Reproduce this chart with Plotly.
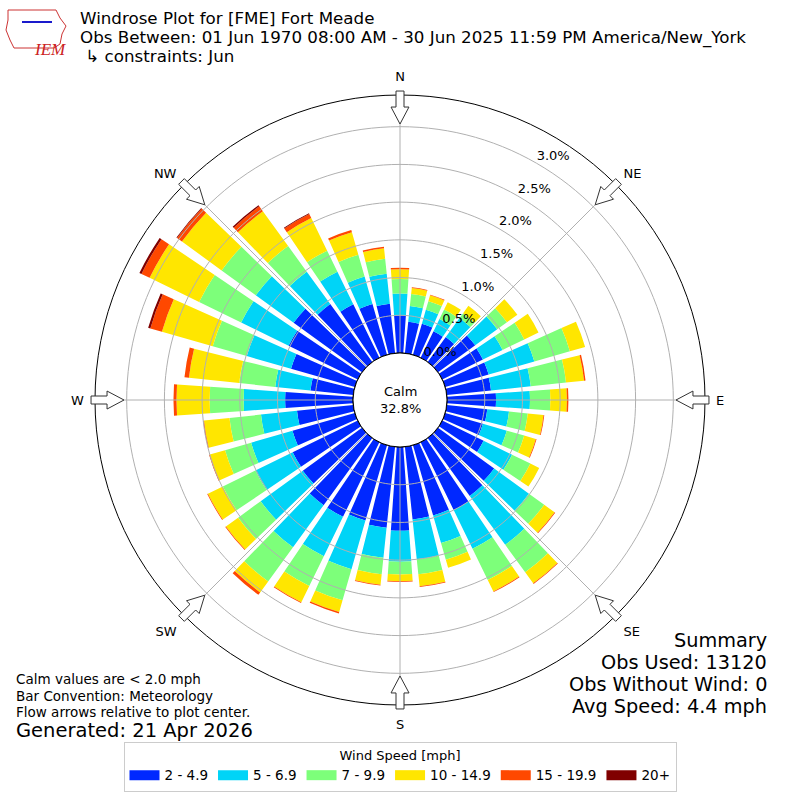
import math
import plotly.graph_objects as go

# direction bins (degrees, meteorological: where the wind blows from)
directions = list(range(0, 360, 10))

speed_bins = ["2 - 4.9", "5 - 6.9", "7 - 9.9", "10 - 14.9", "15 - 19.9", "20+"]
bin_colors = ["#0028ff", "#00d4f7", "#7dff7a", "#ffe600", "#ff4800", "#800000"]

# frequency (%) per direction for each speed bin
pct_2_5 = [0.50, 0.42, 0.43, 0.39, 0.41, 0.61, 0.60, 0.60, 0.59, 0.65, 0.54, 0.52,
           0.61, 0.92, 0.95, 1.00, 0.97, 0.97, 1.11, 1.08, 1.04, 1.10, 1.10, 0.97,
           0.96, 0.86, 0.75, 0.90, 0.57, 0.88, 1.02, 1.12, 0.95, 0.79, 0.70, 0.66]
pct_5_7 = [0.29, 0.21, 0.19, 0.18, 0.31, 0.36, 0.29, 0.63, 0.53, 0.45, 0.29, 0.33,
           0.42, 0.57, 0.80, 0.57, 0.38, 0.53, 0.41, 0.40, 0.67, 0.58, 0.69, 0.69,
           0.55, 0.57, 0.48, 0.55, 0.47, 0.61, 0.70, 0.62, 0.53, 0.48, 0.38, 0.40]
pct_7_10 = [0.19, 0.16, 0.12, 0.14, 0.08, 0.16, 0.32, 0.49, 0.47, 0.27, 0.25, 0.24,
            0.27, 0.25, 0.45, 0.46, 0.23, 0.20, 0.17, 0.22, 0.43, 0.44, 0.56, 0.37,
            0.48, 0.36, 0.42, 0.45, 0.48, 0.47, 0.62, 0.56, 0.42, 0.31, 0.30, 0.20]
pct_10_15 = [0.13, 0.08, 0.08, 0.11, 0.12, 0.17, 0.21, 0.21, 0.24, 0.22, 0.21, 0.16,
             0.13, 0.17, 0.18, 0.17, 0.11, 0.16, 0.09, 0.14, 0.16, 0.24, 0.18, 0.20,
             0.22, 0.21, 0.34, 0.44, 0.67, 0.70, 0.73, 0.65, 0.57, 0.48, 0.31, 0.14]
pct_15_20 = [0.02, 0.01, 0.01, 0.00, 0.00, 0.00, 0.00, 0.00, 0.02, 0.02, 0.01, 0.01,
             0.00, 0.01, 0.01, 0.01, 0.00, 0.01, 0.01, 0.01, 0.02, 0.01, 0.04, 0.01,
             0.01, 0.01, 0.01, 0.04, 0.06, 0.16, 0.12, 0.08, 0.08, 0.06, 0.03, 0.02]
pct_20_up = [0.00, 0.00, 0.00, 0.00, 0.00, 0.00, 0.00, 0.00, 0.00, 0.00, 0.00, 0.00,
             0.00, 0.00, 0.00, 0.00, 0.00, 0.00, 0.00, 0.00, 0.00, 0.00, 0.00, 0.00,
             0.00, 0.00, 0.00, 0.00, 0.00, 0.03, 0.03, 0.01, 0.02, 0.01, 0.00, 0.00]
series = [pct_2_5, pct_5_7, pct_7_10, pct_10_15, pct_15_20, pct_20_up]

radial_ticks = [0.0, 0.5, 1.0, 1.5, 2.0, 2.5, 3.0]
radial_labels = ["0.0%", "0.5%", "1.0%", "1.5%", "2.0%", "2.5%", "3.0%"]
compass_angles = [0, 45, 90, 135, 180, 225, 270, 315]
compass_labels = ["N", "NE", "E", "SE", "S", "SW", "W", "NW"]

calm_text = "Calm<br>32.8%"
summary = ["Summary", "Obs Used: 13120", "Obs Without Wind: 0", "Avg Speed: 4.4 mph"]
notes = ["Calm values are < 2.0 mph", "Bar Convention: Meteorology",
         "Flow arrows relative to plot center."]
title_lines = ["Windrose Plot for [FME] Fort Meade",
               "Obs Between: 01 Jun 1970 08:00 AM - 30 Jun 2025 11:59 PM America/New_York",
               " \u21b3 constraints: Jun"]

FONT = "DejaVu Sans"
W = H = 800
CX, CY, R_OUT, R_HOLE = 400, 400, 305, 47
R_MAX = 3.42

fig = go.Figure()

for name, vals, col in zip(speed_bins, series, bin_colors):
    fig.add_trace(go.Barpolar(r=vals, theta=directions, width=8, name=name,
                              marker=dict(color=col, line=dict(width=0)),
                              showlegend=False))

# grid drawn on top of the bars, like the original
circle_theta = list(range(0, 361, 2))
for t in radial_ticks[1:]:
    fig.add_trace(go.Scatterpolar(r=[t] * len(circle_theta), theta=circle_theta, mode="lines",
                                  line=dict(color="#b0b0b0", width=1), showlegend=False,
                                  hoverinfo="skip"))
for a in compass_angles:
    fig.add_trace(go.Scatterpolar(r=[0, R_MAX], theta=[a, a], mode="lines",
                                  line=dict(color="#b0b0b0", width=1), showlegend=False,
                                  hoverinfo="skip"))
# calm circle edge
fig.add_trace(go.Scatterpolar(r=[0] * len(circle_theta), theta=circle_theta, mode="lines",
                              line=dict(color="black", width=1), showlegend=False,
                              hoverinfo="skip"))
# radial tick labels
fig.add_trace(go.Scatterpolar(r=radial_ticks, theta=[30] * len(radial_ticks), mode="text",
                              text=radial_labels, textposition="top right",
                              textfont=dict(family=FONT, size=13, color="black"),
                              showlegend=False, hoverinfo="skip"))

# legend entries
for name, col in zip(speed_bins, bin_colors):
    fig.add_trace(go.Scatterpolar(r=[None], theta=[None], mode="lines", name=name,
                                  line=dict(color=col, width=10)))

# hollow flow arrows on the compass points
shapes = []
arrow = [(309, -4), (293, -4), (293, -9), (276, 0), (293, 9), (293, 4), (309, 4)]
for a in compass_angles:
    s, c = math.sin(math.radians(a)), math.cos(math.radians(a))
    pts = []
    for along, across in arrow:
        px = CX + along * s + across * c
        py = CY - along * c + across * s
        pts.append("%.4f,%.4f" % (px / W, 1 - py / H))
    shapes.append(dict(type="path", xref="paper", yref="paper", path="M" + " L".join(pts) + " Z",
                       fillcolor="white", line=dict(color="#333333", width=1)))

# rough IEM logo
logo = [(8, 10), (56, 10), (60, 18), (66, 26), (62, 34), (60, 44), (54, 48), (14, 48),
        (10, 40), (6, 30), (8, 20)]
shapes.append(dict(type="path", xref="paper", yref="paper",
                   path="M" + " L".join("%.4f,%.4f" % (x / W, 1 - y / H) for x, y in logo) + " Z",
                   line=dict(color="#cc3333", width=1)))
shapes.append(dict(type="line", xref="paper", yref="paper", x0=22 / W, x1=52 / W,
                   y0=1 - 22 / H, y1=1 - 22 / H, line=dict(color="#1a1acc", width=2)))

annotations = [dict(text="IEM", x=32 / W, y=1 - 38 / H, xref="paper", yref="paper",
                    showarrow=False, font=dict(family="Liberation Serif", size=17,
                                               color="#cc2222", style="italic"))]
for i, line in enumerate(title_lines):
    annotations.append(dict(text=line, x=78 / W, y=1 - (18 + 19 * i) / H, xref="paper",
                            yref="paper", xanchor="left", yanchor="middle", showarrow=False,
                            font=dict(family=FONT, size=16.7, color="black")))
annotations.append(dict(text=calm_text, x=0.5, y=0.5, xref="paper", yref="paper",
                        showarrow=False, font=dict(family=FONT, size=13, color="black")))
for i, line in enumerate(summary):
    annotations.append(dict(text=line, x=769 / W, y=1 - (640 + 22 * i) / H, xref="paper",
                            yref="paper", xanchor="right", yanchor="middle", showarrow=False,
                            font=dict(family=FONT, size=19.3, color="black")))
for i, line in enumerate(notes):
    annotations.append(dict(text=line, x=14 / W, y=1 - (679 + 16.5 * i) / H, xref="paper",
                            yref="paper", xanchor="left", yanchor="middle", showarrow=False,
                            font=dict(family=FONT, size=13.5, color="black")))
annotations.append(dict(text="Generated: 21 Apr 2026", x=14 / W, y=1 - 730 / H, xref="paper",
                        yref="paper", xanchor="left", yanchor="middle", showarrow=False,
                        font=dict(family=FONT, size=19.5, color="black")))

fig.update_layout(
    width=W, height=H,
    margin=dict(l=0, r=0, t=0, b=0),
    paper_bgcolor="white",
    font=dict(family=FONT, size=13, color="black"),
    polar=dict(
        domain=dict(x=[(CX - R_OUT) / W, (CX + R_OUT) / W],
                    y=[(CY - R_OUT) / H, (CY + R_OUT) / H]),
        hole=R_HOLE / R_OUT,
        bgcolor="white",
        barmode="stack",
        radialaxis=dict(range=[0, R_MAX], tickvals=radial_ticks, showticklabels=False,
                        showgrid=False, showline=False, ticks=""),
        angularaxis=dict(rotation=90, direction="clockwise", tickvals=compass_angles,
                         ticktext=compass_labels, showgrid=False, showline=True,
                         linecolor="black", linewidth=1, ticks="outside", ticklen=8,
                         tickcolor="rgba(0,0,0,0)", tickfont=dict(family=FONT, size=13)),
    ),
    legend=dict(orientation="h", x=0.5, xanchor="center", y=1 - 742 / H, yanchor="top",
                title=dict(text="Wind Speed [mph]", side="top center",
                           font=dict(family=FONT, size=13)),
                font=dict(family=FONT, size=13.5), bgcolor="white",
                bordercolor="#cccccc", borderwidth=1, itemwidth=30),
    shapes=shapes,
    annotations=annotations,
)

# drop the default page margin so the 800x800 figure sits at the window origin
fig.write_html("out.html", config={"displayModeBar": False},
               post_script="document.body.style.margin='0';")
